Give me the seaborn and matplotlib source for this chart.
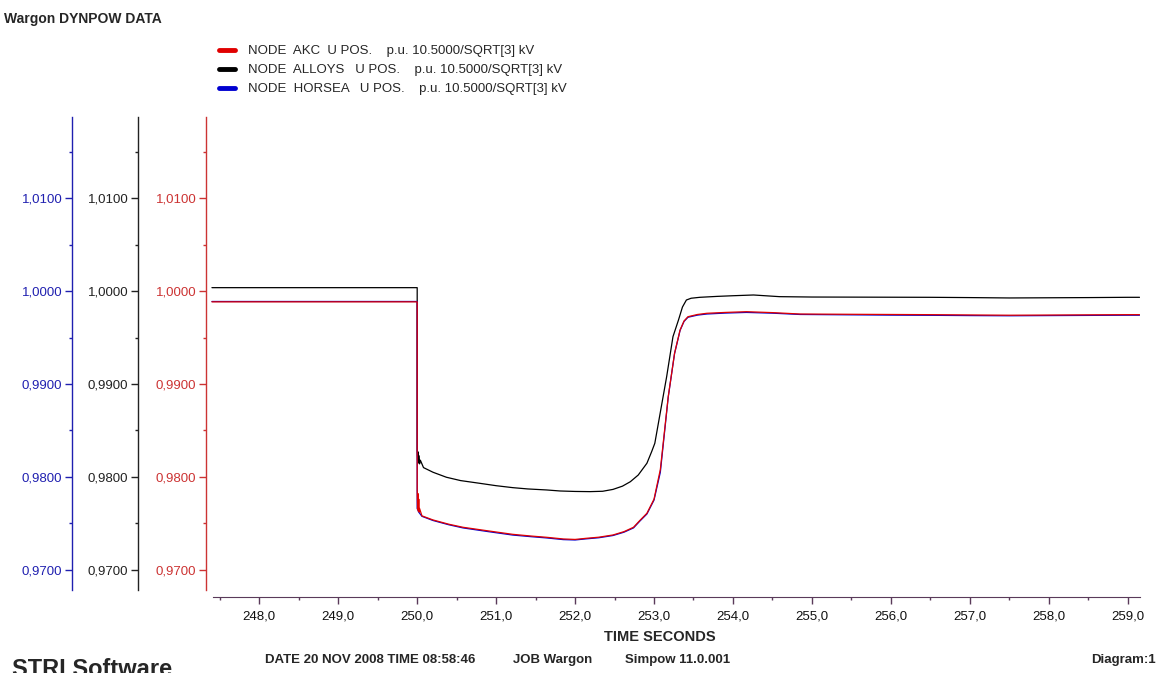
import numpy as np
import pandas as pd
import matplotlib
matplotlib.use("Agg")
import matplotlib.pyplot as plt
import seaborn as sns
from matplotlib.lines import Line2D
from matplotlib.ticker import MultipleLocator, FuncFormatter

# --- datos ---
black_t = [247.40, 250.00, 250.00, 250.005, 250.01, 250.015, 250.02, 250.03, 250.04, 250.08,
           250.2, 250.37, 250.55, 250.79, 251.0, 251.21, 251.4, 251.64, 251.81, 252.0,
           252.19, 252.35, 252.48, 252.6, 252.7, 252.8, 252.91, 252.97, 253.01, 253.07,
           253.16, 253.24, 253.31, 253.36, 253.41, 253.47, 253.58, 253.8, 254.0, 254.26,
           254.59, 255.0, 255.5, 256.0, 256.5, 257.0, 257.5, 258.0, 258.5, 259.0, 259.15]
black_v = [1.00039, 1.00039, 0.9829, 0.9818, 0.9827, 0.9815, 0.9823, 0.9814, 0.9818, 0.98100,
           0.98050, 0.97996, 0.97960, 0.97931, 0.97905, 0.97884, 0.97870, 0.97859, 0.97848, 0.97843,
           0.97841, 0.97845, 0.97865, 0.97900, 0.97948, 0.98020, 0.98147, 0.98272, 0.98362, 0.98649,
           0.99080, 0.99511, 0.99691, 0.99830, 0.99906, 0.99925, 0.99935, 0.99945, 0.99952, 0.99960,
           0.99942, 0.99938, 0.99937, 0.99936, 0.99935, 0.99932, 0.99928, 0.99930, 0.99932, 0.99935, 0.99935]

red_t = [247.40, 250.00, 250.00, 250.005, 250.01, 250.015, 250.02, 250.025, 250.03, 250.06,
         250.2, 250.4, 250.58, 250.9, 251.21, 251.45, 251.64, 251.85, 252.0, 252.14,
         252.3, 252.48, 252.62, 252.74, 252.82, 252.91, 253.0, 253.08, 253.18, 253.26,
         253.33, 253.38, 253.43, 253.55, 253.67, 253.9, 254.17, 254.5, 254.85, 255.5,
         256.0, 256.5, 257.0, 257.5, 258.0, 258.5, 259.0, 259.15]
red_v = [0.99886, 0.99886, 0.9786, 0.9765, 0.9782, 0.9763, 0.9776, 0.9762, 0.9766, 0.97580,
         0.97536, 0.97490, 0.97457, 0.97418, 0.97381, 0.97362, 0.97349, 0.97331, 0.97326, 0.97338,
         0.97350, 0.97374, 0.97410, 0.97457, 0.97530, 0.97608, 0.97760, 0.98080, 0.98864, 0.99332,
         0.99583, 0.99680, 0.99726, 0.99750, 0.99763, 0.99772, 0.99780, 0.99770, 0.99755, 0.99752,
         0.99750, 0.99748, 0.99745, 0.99742, 0.99744, 0.99746, 0.99748, 0.99748]

blue_t = [247.40, 250.00, 250.00, 250.02, 250.06, 250.2, 250.4, 250.58, 250.9, 251.21,
          251.45, 251.64, 251.85, 252.0, 252.14, 252.3, 252.48, 252.62, 252.74, 252.82,
          252.91, 253.0, 253.08, 253.18, 253.26, 253.33, 253.38, 253.43, 253.55, 253.67,
          253.9, 254.17, 254.5, 254.85, 255.5, 256.0, 256.5, 257.0, 257.5, 258.0,
          258.5, 259.0, 259.15]
blue_v = [0.99890, 0.99890, 0.9766, 0.9762, 0.97575, 0.97530, 0.97484, 0.97450, 0.97410, 0.97373,
          0.97355, 0.97342, 0.97324, 0.97320, 0.97332, 0.97344, 0.97368, 0.97404, 0.97450, 0.97523,
          0.97600, 0.97750, 0.98050, 0.98860, 0.99328, 0.99578, 0.99675, 0.99720, 0.99743, 0.99755,
          0.99765, 0.99772, 0.99764, 0.99750, 0.99746, 0.99743, 0.99741, 0.99738, 0.99736, 0.99738,
          0.99740, 0.99742, 0.99742]

series_names = ["NODE  AKC  U POS.    p.u. 10.5000/SQRT[3] kV",
                "NODE  ALLOYS   U POS.    p.u. 10.5000/SQRT[3] kV",
                "NODE  HORSEA   U POS.    p.u. 10.5000/SQRT[3] kV"]
series_colors = ["#e00000", "#000000", "#0000d0"]

# --- estilo ---
sns.set_style("ticks")
plt.rcParams["font.family"] = ["Liberation Sans", "DejaVu Sans"]

W, H = 1160, 673
fig = plt.figure(figsize=(W / 100, H / 100), dpi=100)
ax = fig.add_axes([206 / W, 1 - 590 / H, (1140 - 206) / W, (590 - 117) / H])

df_black = pd.DataFrame({"t": black_t, "v": black_v})
df_blue = pd.DataFrame({"t": blue_t, "v": blue_v})
df_red = pd.DataFrame({"t": red_t, "v": red_v})

# orden de dibujo: negro, azul, rojo (rojo encima)
sns.lineplot(data=df_black, x="t", y="v", ax=ax, color=series_colors[1], lw=0.9,
             estimator=None, sort=False)
sns.lineplot(data=df_blue, x="t", y="v", ax=ax, color=series_colors[2], lw=0.9,
             estimator=None, sort=False)
sns.lineplot(data=df_red, x="t", y="v", ax=ax, color=series_colors[0], lw=0.9,
             estimator=None, sort=False)

xlo = 248 - (259.3 - 206) / 78.95
xhi = 259 + (1140 - 1127.7) / 78.95
ax.set_xlim(xlo, xhi)
ax.set_ylim(0.96781, 1.01878)
ax.set_xlabel("")
ax.set_ylabel("")

comma = FuncFormatter(lambda v, p: f"{v:.4f}".replace(".", ","))
comma_x = FuncFormatter(lambda v, p: f"{v:.1f}".replace(".", ","))

red_axis = "#cc3333"
blue_axis = "#2020b0"
black_axis = "#222222"
x_axis = "#5a3a5a"
fs_tick = 9.5

for s in ["top", "right"]:
    ax.spines[s].set_visible(False)
ax.spines["left"].set_color(red_axis)
ax.spines["left"].set_linewidth(1.0)
ax.yaxis.set_major_locator(MultipleLocator(0.01))
ax.yaxis.set_minor_locator(MultipleLocator(0.005))
ax.yaxis.set_major_formatter(comma)
ax.tick_params(axis="y", which="major", length=5, width=1, colors=red_axis,
               labelsize=fs_tick, pad=2)
ax.tick_params(axis="y", which="minor", length=2.5, width=1, colors=red_axis)

ax.spines["bottom"].set_position(("outward", 5))
ax.spines["bottom"].set_bounds(247.41, xhi)
ax.spines["bottom"].set_color(x_axis)
ax.xaxis.set_major_locator(MultipleLocator(1))
ax.xaxis.set_minor_locator(MultipleLocator(0.5))
ax.xaxis.set_major_formatter(comma_x)
ax.tick_params(axis="x", which="major", length=5, width=1, color=x_axis,
               labelsize=fs_tick, labelcolor="#111111", pad=5)
ax.tick_params(axis="x", which="minor", length=2.5, width=1, color=x_axis)

# ejes extra (negro y azul) a la izquierda
for pos_px, col in [(138, black_axis), (72, blue_axis)]:
    sec = ax.secondary_yaxis((pos_px - 206) / (1140 - 206))
    sec.spines["left"].set_color(col)
    sec.spines["left"].set_linewidth(1.0)
    sec.yaxis.set_major_locator(MultipleLocator(0.01))
    sec.yaxis.set_minor_locator(MultipleLocator(0.005))
    sec.yaxis.set_major_formatter(comma)
    sec.tick_params(axis="y", which="major", length=5, width=1, colors=col,
                    labelsize=fs_tick, pad=2)
    sec.tick_params(axis="y", which="minor", length=2.5, width=1, colors=col)

# leyenda
handles = [Line2D([], [], color=c, lw=3.5) for c in series_colors]
fig.legend(handles, series_names, loc="upper left", bbox_to_anchor=(219 / W, 1 - 45 / H),
           frameon=False, fontsize=9.5, handlelength=1.2, handletextpad=1.0,
           labelspacing=0.52, borderaxespad=0, borderpad=0)

# textos
fig.text(4 / W, 1 - 19 / H, "Wargon DYNPOW DATA", fontsize=10, fontweight="bold", va="center")
fig.text(660 / W, 1 - 637 / H, "TIME SECONDS", fontsize=10.5, fontweight="bold",
         ha="center", va="center")
fig.text(265 / W, 1 - 660 / H, "DATE 20 NOV 2008 TIME 08:58:46", fontsize=9.5,
         fontweight="bold", va="center")
fig.text(513 / W, 1 - 660 / H, "JOB Wargon", fontsize=9.5, fontweight="bold", va="center")
fig.text(625 / W, 1 - 660 / H, "Simpow 11.0.001", fontsize=9.5, fontweight="bold", va="center")
fig.text(1156 / W, 1 - 660 / H, "Diagram:1", fontsize=9.5, fontweight="bold",
         ha="right", va="center")
fig.text(12 / W, 1 - 658 / H, "STRI Software", fontsize=17, fontweight="bold", va="top")

fig.savefig("out.png", dpi=100)
